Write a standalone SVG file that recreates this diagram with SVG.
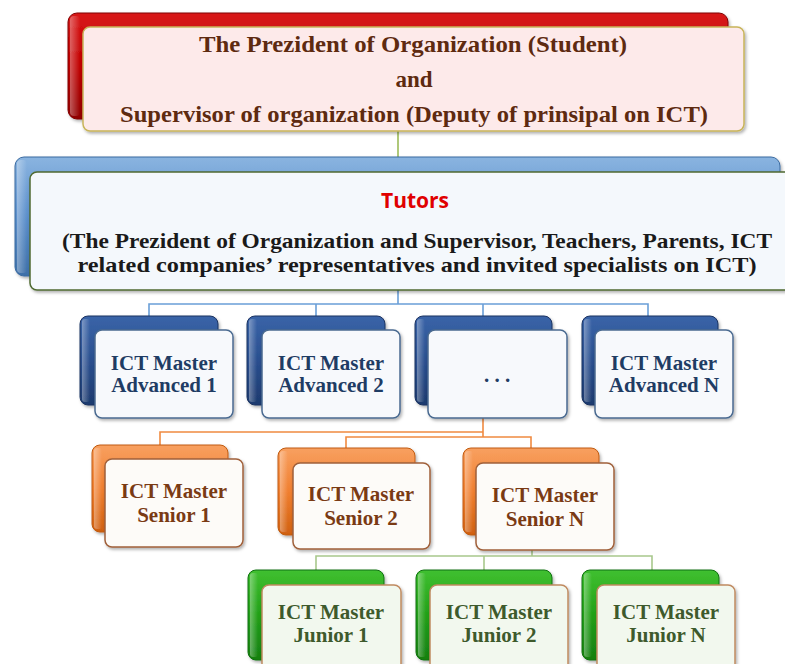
<svg xmlns="http://www.w3.org/2000/svg" width="785" height="664" viewBox="0 0 785 664">
<defs>
  <linearGradient id="gRed" x1="0" y1="0" x2="0" y2="1"><stop offset="0" stop-color="#d81818"/><stop offset="0.5" stop-color="#c00000"/><stop offset="1" stop-color="#900000"/></linearGradient>
  <linearGradient id="gBlueL" x1="0" y1="0" x2="0" y2="1"><stop offset="0" stop-color="#8ab4e0"/><stop offset="0.5" stop-color="#5b8fcb"/><stop offset="1" stop-color="#3d6fa8"/></linearGradient>
  <linearGradient id="gBlueD" x1="0" y1="0" x2="0" y2="1"><stop offset="0" stop-color="#3a64a8"/><stop offset="0.5" stop-color="#2a4f8f"/><stop offset="1" stop-color="#1d3a6e"/></linearGradient>
  <linearGradient id="gOrange" x1="0" y1="0" x2="0" y2="1"><stop offset="0" stop-color="#f8a060"/><stop offset="0.5" stop-color="#f07f30"/><stop offset="1" stop-color="#d06010"/></linearGradient>
  <linearGradient id="gGreen" x1="0" y1="0" x2="0" y2="1"><stop offset="0" stop-color="#40c030"/><stop offset="0.5" stop-color="#22a018"/><stop offset="1" stop-color="#168010"/></linearGradient>
  <linearGradient id="gEdgeL" x1="0" y1="0" x2="1" y2="0"><stop offset="0" stop-color="#ffffff" stop-opacity="0.35"/><stop offset="1" stop-color="#ffffff" stop-opacity="0"/></linearGradient>
  <filter id="sh" x="-10%" y="-10%" width="130%" height="130%"><feDropShadow dx="1.5" dy="2" stdDeviation="1.5" flood-color="#000" flood-opacity="0.3"/></filter>
</defs>
<style>
  .conn{fill:none;stroke-width:1.6}
  .cg{stroke:#9bbb59}
  .cb{stroke:#6a9fd8}
  .co{stroke:#f08a40}
  .cj{stroke:#a8c88c}
  .back{filter:url(#sh)}
  .front{stroke-width:1.5;filter:url(#sh)}
  .tm{font-family:"Liberation Serif","Times New Roman",serif;font-weight:bold;text-anchor:middle}
  .adv{fill:#1f3c64;font-size:21px}
  .sen{fill:#7a3a14;font-size:21px}
  .jun{fill:#3e5a2c;font-size:21px}
</style>

<g id="connectors">
  <path class="conn cg" d="M398,131 V172"/>
  <path class="conn cb" d="M398,290 V304 M149,318 V304 H648 V318 M316,304 V318 M483,304 V318"/>
  <path class="conn co" d="M483,418 V432 H160 V447 M483,432 V437 M346,450 V437 H531 V450"/>
  <path class="conn cj" d="M532,550 V556 M316,570 V556 H652 V570 M484,556 V570"/>
</g>

<g id="president">
  <rect class="back" x="68" y="13" width="660" height="106" rx="9" fill="url(#gRed)" stroke="#800000" stroke-width="1"/>
  <rect x="70" y="16" width="10" height="100" rx="4" fill="url(#gEdgeL)"/>
  <rect class="front" x="83" y="27" width="661" height="104" rx="7" fill="#fdeaea" stroke="#c8b45a"/>
  <text class="tm" x="413" y="52" font-size="23" fill="#5e2a10" textLength="428" lengthAdjust="spacingAndGlyphs">The Prezident of Organization (Student)</text>
  <text class="tm" x="414" y="87" font-size="23" fill="#5e2a10">and</text>
  <text class="tm" x="414" y="122" font-size="23" fill="#5e2a10" textLength="588" lengthAdjust="spacingAndGlyphs">Supervisor of organization (Deputy of prinsipal on ICT)</text>
</g>

<g id="tutors">
  <rect class="back" x="15" y="157" width="765" height="119" rx="9" fill="url(#gBlueL)" stroke="#3a6aa0" stroke-width="1"/>
  <rect x="17" y="160" width="10" height="113" rx="4" fill="url(#gEdgeL)"/>
  <rect class="front" x="30" y="172" width="762" height="118" rx="7" fill="#f4f8fc" stroke="#4f6a30"/>
  <text x="415" y="208" font-family="'Open Sans','Liberation Sans',Arial,sans-serif" font-weight="bold" font-size="21" fill="#e00000" text-anchor="middle">Tutors</text>
  <text class="tm" x="417" y="248" font-size="21" fill="#1a1a1a" textLength="710" lengthAdjust="spacingAndGlyphs">(The Prezident of Organization  and Supervisor, Teachers, Parents, ICT</text>
  <text class="tm" x="417" y="272" font-size="21" fill="#1a1a1a" textLength="679" lengthAdjust="spacingAndGlyphs">related companies’ representatives  and  invited specialists  on ICT)</text>
</g>

<g id="advanced1">
  <rect class="back" x="80" y="316" width="138" height="89" rx="8" fill="url(#gBlueD)" stroke="#1a3260"/>
  <rect x="82" y="319" width="8" height="83" rx="3" fill="url(#gEdgeL)"/>
  <rect class="front" x="95" y="330" width="138" height="88" rx="7" fill="#f7f9fc" stroke="#4a6a90"/>
  <text class="tm adv" x="164" y="370">ICT Master</text>
  <text class="tm adv" x="164" y="392">Advanced 1</text>
</g>
<g id="advanced2">
  <rect class="back" x="247" y="316" width="138" height="89" rx="8" fill="url(#gBlueD)" stroke="#1a3260"/>
  <rect x="249" y="319" width="8" height="83" rx="3" fill="url(#gEdgeL)"/>
  <rect class="front" x="262" y="330" width="138" height="88" rx="7" fill="#f7f9fc" stroke="#4a6a90"/>
  <text class="tm adv" x="331" y="370">ICT Master</text>
  <text class="tm adv" x="331" y="392">Advanced 2</text>
</g>
<g id="advanced3">
  <rect class="back" x="415" y="316" width="137" height="89" rx="8" fill="url(#gBlueD)" stroke="#1a3260"/>
  <rect x="417" y="319" width="8" height="83" rx="3" fill="url(#gEdgeL)"/>
  <rect class="front" x="428" y="330" width="139" height="88" rx="7" fill="#f7f9fc" stroke="#4a6a90"/>
  <text class="tm adv" x="497" y="382" font-size="18">. . .</text>
</g>
<g id="advancedN">
  <rect class="back" x="582" y="316" width="136" height="89" rx="8" fill="url(#gBlueD)" stroke="#1a3260"/>
  <rect x="584" y="319" width="8" height="83" rx="3" fill="url(#gEdgeL)"/>
  <rect class="front" x="595" y="330" width="138" height="88" rx="7" fill="#f7f9fc" stroke="#4a6a90"/>
  <text class="tm adv" x="664" y="370">ICT Master</text>
  <text class="tm adv" x="664" y="392">Advanced N</text>
</g>

<g id="senior1">
  <rect class="back" x="92" y="445" width="136" height="87" rx="8" fill="url(#gOrange)" stroke="#c05a10"/>
  <rect x="94" y="448" width="8" height="81" rx="3" fill="url(#gEdgeL)"/>
  <rect class="front" x="105" y="459" width="138" height="88" rx="7" fill="#fdfbf8" stroke="#a0603a"/>
  <text class="tm sen" x="174" y="498">ICT Master</text>
  <text class="tm sen" x="174" y="522">Senior 1</text>
</g>
<g id="senior2">
  <rect class="back" x="278" y="448" width="137" height="87" rx="8" fill="url(#gOrange)" stroke="#c05a10"/>
  <rect x="280" y="451" width="8" height="81" rx="3" fill="url(#gEdgeL)"/>
  <rect class="front" x="293" y="463" width="137" height="86" rx="7" fill="#fdfbf8" stroke="#a0603a"/>
  <text class="tm sen" x="361" y="501">ICT Master</text>
  <text class="tm sen" x="361" y="525">Senior 2</text>
</g>
<g id="seniorN">
  <rect class="back" x="463" y="448" width="136" height="87" rx="8" fill="url(#gOrange)" stroke="#c05a10"/>
  <rect x="465" y="451" width="8" height="81" rx="3" fill="url(#gEdgeL)"/>
  <rect class="front" x="476" y="463" width="138" height="87" rx="7" fill="#fdfbf8" stroke="#a0603a"/>
  <text class="tm sen" x="545" y="502">ICT Master</text>
  <text class="tm sen" x="545" y="526">Senior N</text>
</g>

<g id="junior1">
  <rect class="back" x="248" y="570" width="136" height="90" rx="8" fill="url(#gGreen)" stroke="#107010"/>
  <rect x="250" y="573" width="8" height="84" rx="3" fill="url(#gEdgeL)"/>
  <rect class="front" x="262" y="585" width="139" height="90" rx="7" fill="#f2f8ee" stroke="#c08a60"/>
  <text class="tm jun" x="331" y="619">ICT Master</text>
  <text class="tm jun" x="331" y="642">Junior 1</text>
</g>
<g id="junior2">
  <rect class="back" x="416" y="570" width="136" height="90" rx="8" fill="url(#gGreen)" stroke="#107010"/>
  <rect x="418" y="573" width="8" height="84" rx="3" fill="url(#gEdgeL)"/>
  <rect class="front" x="430" y="585" width="138" height="90" rx="7" fill="#f2f8ee" stroke="#c08a60"/>
  <text class="tm jun" x="499" y="619">ICT Master</text>
  <text class="tm jun" x="499" y="642">Junior 2</text>
</g>
<g id="juniorN">
  <rect class="back" x="582" y="570" width="137" height="90" rx="8" fill="url(#gGreen)" stroke="#107010"/>
  <rect x="584" y="573" width="8" height="84" rx="3" fill="url(#gEdgeL)"/>
  <rect class="front" x="597" y="585" width="138" height="90" rx="7" fill="#f2f8ee" stroke="#c08a60"/>
  <text class="tm jun" x="666" y="619">ICT Master</text>
  <text class="tm jun" x="666" y="642">Junior N</text>
</g>
</svg>
